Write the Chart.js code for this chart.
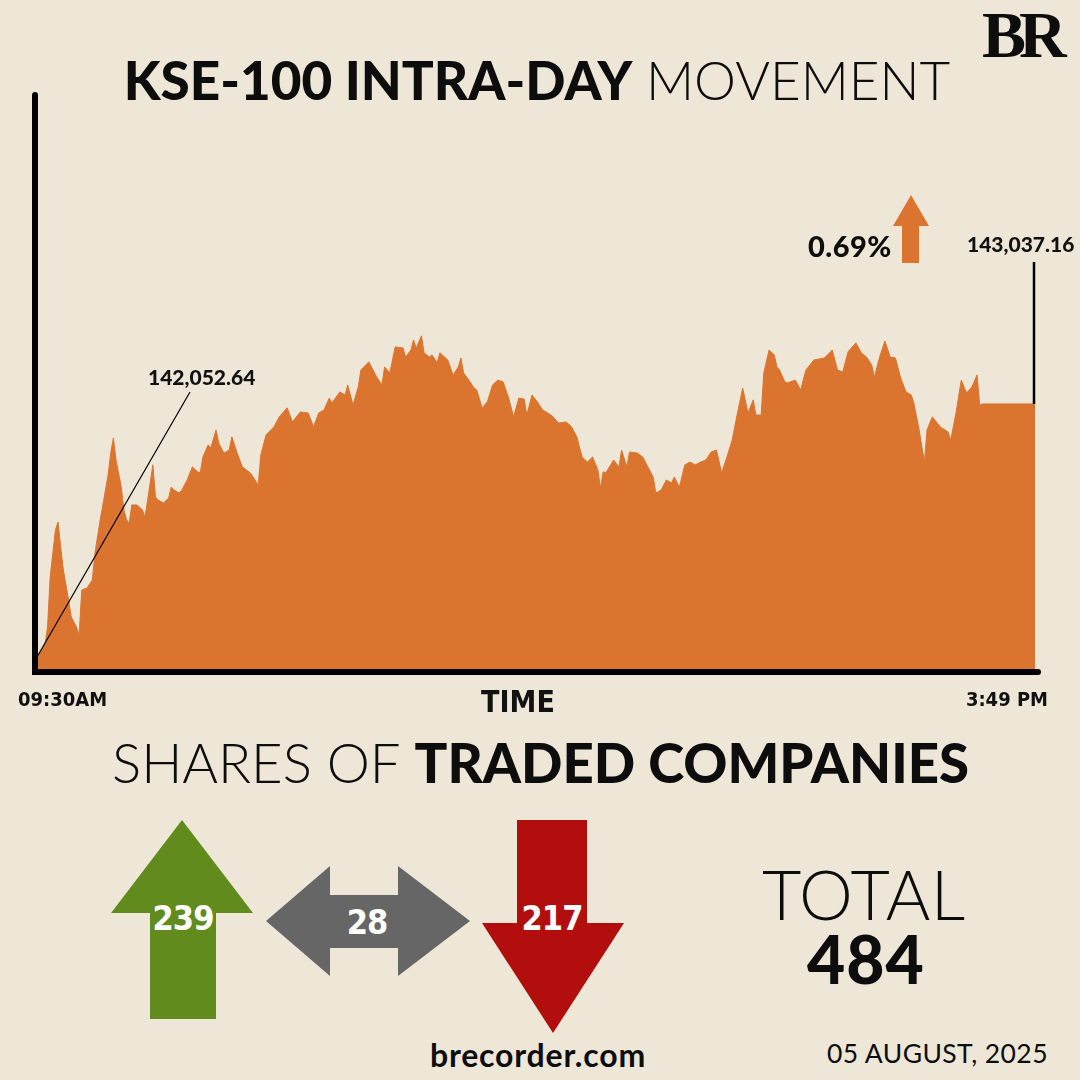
<!DOCTYPE html>
<html>
<head>
<meta charset="utf-8">
<script src="https://cdn.jsdelivr.net/npm/chart.js@4.4.1/dist/chart.umd.min.js"></script>
<style>
  html, body { margin:0; padding:0; }
  body { width:1080px; height:1080px; background:#EEE7D7; position:relative; overflow:hidden; font-family: Lato, "Noto Sans", sans-serif; color:#0d0d0d; }
  .t { position:absolute; line-height:1; white-space:nowrap; }
  #chartBox { position:absolute; left:0; top:0; width:1080px; height:730px; }
  svg { position:absolute; left:0; top:0; }
</style>
</head>
<body>
<script>
// ---- data ----
const minutesFromOpen = [0,3,4,5,7,8,9,10,12,13,15,16,17,19,21,22,24,26,27,28,29,30,32,33,34,35,36,38,40,41,42,44,45,46,48,50,51,52,54,55,57,59,61,62,63,65,66,68,69,71,73,74,76,78,81,84,85,87,90,92,95,97,100,103,105,107,109,111,112,115,117,118,120,122,123,126,129,131,132,134,136,139,140,142,143,144,146,147,149,150,152,153,156,158,160,161,162,164,166,167,169,171,173,175,177,179,181,183,185,186,188,190,192,194,196,198,201,203,205,207,209,211,213,214,215,216,219,221,222,224,225,228,230,232,234,235,237,239,241,242,244,246,248,250,252,254,256,258,260,262,264,266,268,270,272,273,275,276,278,280,281,282,284,285,288,290,292,295,299,301,302,304,306,308,311,313,315,317,318,320,322,324,326,328,330,332,333,335,337,338,340,343,346,347,349,351,353,355,357,358,359,379];
const indexValues = [142052.64,142099,142169,142364,142547,142578,142481,142391,142274,142208,142169,142138,142313,142321,142352,142457,142586,142702,142761,142846,142905,142819,142714,142625,142586,142574,142644,142644,142625,142597,142663,142800,142675,142663,142652,142671,142714,142702,142691,142702,142741,142792,142773,142769,142831,142878,142866,142936,142885,142846,142858,142909,142846,142792,142769,142722,142839,142917,142948,142987,143022,142967,143006,143002,142948,143002,143014,143060,143041,143084,143072,143111,143033,143103,143169,143201,143142,143111,143181,143158,143259,143255,143220,143247,143286,143255,143302,143236,143220,143228,143197,143236,143208,143150,143181,143216,143158,143130,143099,143092,143022,143045,143111,143130,143123,143064,142987,143060,143056,142994,143072,143045,143014,143002,142987,142963,142967,142948,142909,142831,142811,142831,142780,142710,142773,142769,142819,142792,142858,142792,142850,142846,142831,142792,142753,142691,142702,142741,142730,142753,142714,142800,142811,142800,142811,142819,142850,142858,142769,142831,142897,143002,143099,143002,143053,142994,142994,143158,143247,143228,143181,143169,143123,143119,143130,143092,143169,143208,143216,143236,143247,143169,143162,143240,143275,143236,143220,143189,143142,143220,143282,143220,143216,143138,143084,143072,143041,142936,142811,142936,142987,142948,142928,142897,143002,143130,143080,143103,143150,143033,143037.16,143037.16];
const tickLabels = ["09:30AM", "3:49 PM"];
const axisTitle = "TIME";
const changePct = "0.69%";
const advancers = 239, unchanged = 28, decliners = 217;
const totalCompanies = 484;
const dateLabel = "05 AUGUST, 2025";
</script>

<svg width="1080" height="1080">
  <polygon points="911,195 929,226 919,226 919,263 902,263 902,226 893,226" fill="#DB742F"/>
  <polygon points="182,820 253,913 216,913 216,1019 150,1019 150,913 111,913" fill="#628B1E"/>
  <polygon points="266,921 330,866 330,895 398,895 398,866 470,921 398,976 398,948 330,948 330,976" fill="#666666"/>
  <polygon points="517,820 587,820 587,923 624,923 553,1033 482,923 517,923" fill="#B30E0E"/>
</svg>

<div id="chartBox"><canvas id="c"></canvas></div>

<div class="t" style="left:0;width:1074px;text-align:center;top:53px;font-size:53px;">
  <span style="font-weight:900">KSE-100 INTRA-DAY</span> <span style="font-weight:300">MOVEMENT</span>
</div>
<div class="t" style="left:982px;top:2px;font-family:'Liberation Serif','DejaVu Serif',serif;font-weight:700;font-size:66px;letter-spacing:-7px;">BR</div>

<div class="t" id="pct" style="left:808px;top:231px;font-size:29px;font-weight:900;letter-spacing:0.5px;"></div>

<div class="t" style="left:0;width:1081px;text-align:center;top:735px;font-size:54.5px;">
  <span style="font-weight:300">SHARES OF</span> <span style="font-weight:900">TRADED COMPANIES</span>
</div>

<div class="t" id="adv" style="left:133px;width:100px;text-align:center;top:901px;font-family:'DejaVu Sans Condensed','DejaVu Sans',sans-serif;font-weight:700;font-size:34px;color:#fff;letter-spacing:-1px;"></div>
<div class="t" id="unc" style="left:317px;width:100px;text-align:center;top:905px;font-family:'DejaVu Sans Condensed','DejaVu Sans',sans-serif;font-weight:700;font-size:34px;color:#fff;letter-spacing:-1px;"></div>
<div class="t" id="dec" style="left:502px;width:100px;text-align:center;top:901px;font-family:'DejaVu Sans Condensed','DejaVu Sans',sans-serif;font-weight:700;font-size:34px;color:#fff;letter-spacing:-1px;"></div>

<div class="t" style="left:762px;top:860px;font-size:68px;font-weight:300;letter-spacing:0.5px;">TOTAL</div>
<div class="t" id="tot" style="left:807px;top:926px;font-size:66px;font-weight:900;letter-spacing:1px;"></div>

<div class="t" style="left:430px;top:1039px;font-size:32px;font-weight:700;letter-spacing:0.8px;">brecorder.com</div>
<div class="t" id="date" style="left:827px;top:1040px;font-size:26.5px;font-weight:400;letter-spacing:0.4px;"></div>

<script>
document.getElementById('pct').textContent = changePct;
document.getElementById('adv').textContent = advancers;
document.getElementById('unc').textContent = unchanged;
document.getElementById('dec').textContent = decliners;
document.getElementById('tot').textContent = totalCompanies;
document.getElementById('date').textContent = dateLabel;

const fmt = v => v.toLocaleString('en-US', {minimumFractionDigits:2, maximumFractionDigits:2});

const decor = {
  id: 'decor',
  afterDatasetsDraw(chart) {
    const {ctx, chartArea: a, scales: {x, y}} = chart;
    ctx.save();
    // axis lines
    ctx.strokeStyle = '#000';
    ctx.lineCap = 'round';
    ctx.lineWidth = 6;
    ctx.beginPath();
    ctx.moveTo(a.left - 2, a.top + 3);
    ctx.lineTo(a.left - 2, a.bottom);
    ctx.lineTo(a.right + 3, a.bottom);
    ctx.stroke();

    // tick labels + axis title
    ctx.fillStyle = '#111';
    ctx.font = "700 20px 'DejaVu Sans Condensed', 'DejaVu Sans', sans-serif";
    ctx.textBaseline = 'alphabetic';
    ctx.textAlign = 'left';
    ctx.fillText(tickLabels[0], x.getPixelForValue(minutesFromOpen[0]) - 19, 706);
    ctx.textAlign = 'right';
    ctx.fillText(tickLabels[1], x.getPixelForValue(minutesFromOpen[minutesFromOpen.length-1]) + 13, 706);
    ctx.textAlign = 'center';
    ctx.font = "700 30px 'DejaVu Sans Condensed', 'DejaVu Sans', sans-serif";
    ctx.fillText(axisTitle, (a.left + a.right) / 2 - 18, 712);

    // open annotation
    const x0 = x.getPixelForValue(minutesFromOpen[0]);
    const y0 = y.getPixelForValue(indexValues[0]);
    ctx.lineWidth = 1.2;
    ctx.lineCap = 'butt';
    ctx.beginPath();
    ctx.moveTo(x0, y0);
    ctx.lineTo(190, 392);
    ctx.stroke();
    ctx.font = "900 21px Lato, sans-serif";
    ctx.textAlign = 'left';
    ctx.fillText(fmt(indexValues[0]), 148, 385);

    // close annotation
    const n = indexValues.length - 1;
    const x1 = x.getPixelForValue(minutesFromOpen[n]);
    const y1 = y.getPixelForValue(indexValues[n]);
    ctx.lineWidth = 2.5;
    ctx.beginPath();
    ctx.moveTo(x1 - 1, y1);
    ctx.lineTo(x1 - 1, 262);
    ctx.stroke();
    ctx.fillText(fmt(indexValues[n]), 967, 252);
    ctx.restore();
  }
};

new Chart(document.getElementById('c'), {
  type: 'line',
  data: {
    datasets: [{
      data: minutesFromOpen.map((m, i) => ({x: m, y: indexValues[i]})),
      borderColor: '#DB742F',
      borderWidth: 1,
      backgroundColor: '#DB742F',
      fill: 'start',
      pointRadius: 0,
      tension: 0
    }]
  },
  options: {
    responsive: true,
    maintainAspectRatio: false,
    animation: false,
    layout: { padding: { left: 37, right: 45, top: 92, bottom: 58 } },
    plugins: { legend: { display: false }, tooltip: { enabled: false } },
    scales: {
      x: { type: 'linear', min: 0, max: 379, display: false },
      y: { min: 141994, max: 144251, display: false }
    }
  },
  plugins: [decor]
});
</script>
</body>
</html>
